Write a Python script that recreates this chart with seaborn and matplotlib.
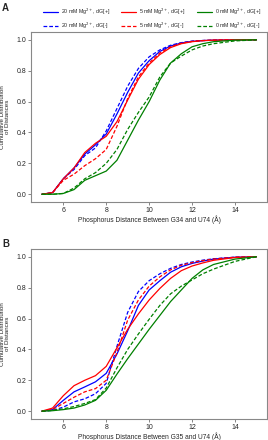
import pandas as pd
import matplotlib.pyplot as plt
import seaborn as sns

# distance grid (Angstrom)
dist = [5.0, 5.5, 6.0, 6.5, 7.0, 7.5, 8.0, 8.5, 9.0, 9.5, 10.0,
        10.5, 11.0, 11.5, 12.0, 12.5, 13.0, 14.0, 15.0]

# ---- panel A: G34 - U74 ----
a_20_pos = [0, 0.01, 0.10, 0.17, 0.26, 0.32, 0.39, 0.52, 0.66, 0.785, 0.865,
            0.925, 0.96, 0.98, 0.99, 0.995, 0.998, 1.0, 1.0]
a_20_neg = [0, 0.01, 0.10, 0.16, 0.25, 0.30, 0.41, 0.555, 0.70, 0.815, 0.89,
            0.935, 0.965, 0.982, 0.992, 0.996, 0.998, 1.0, 1.0]
a_5_pos = [0, 0.01, 0.10, 0.17, 0.27, 0.33, 0.375, 0.47, 0.61, 0.745, 0.84,
           0.905, 0.95, 0.975, 0.988, 0.995, 0.998, 1.0, 1.0]
a_5_neg = [0, 0.01, 0.09, 0.13, 0.185, 0.23, 0.29, 0.44, 0.62, 0.76, 0.85,
           0.915, 0.955, 0.978, 0.99, 0.995, 0.998, 1.0, 1.0]
a_0_pos = [0, 0.0, 0.005, 0.03, 0.09, 0.12, 0.15, 0.22, 0.35, 0.48, 0.60,
           0.74, 0.85, 0.91, 0.955, 0.975, 0.988, 0.998, 1.0]
a_0_neg = [0, 0.0, 0.005, 0.04, 0.10, 0.14, 0.20, 0.29, 0.42, 0.53, 0.63,
           0.76, 0.85, 0.895, 0.935, 0.96, 0.975, 0.993, 1.0]

# ---- panel B: G35 - U74 ----
b_20_pos = [0, 0.01, 0.07, 0.125, 0.157, 0.19, 0.245, 0.37, 0.52, 0.685, 0.785,
            0.845, 0.90, 0.935, 0.957, 0.972, 0.985, 0.997, 1.0]
b_20_neg = [0, 0.005, 0.026, 0.06, 0.08, 0.113, 0.18, 0.42, 0.64, 0.775, 0.845,
            0.89, 0.925, 0.95, 0.966, 0.978, 0.987, 0.997, 1.0]
b_5_pos = [0, 0.02, 0.10, 0.165, 0.20, 0.23, 0.29, 0.41, 0.53, 0.63, 0.72,
           0.795, 0.86, 0.91, 0.94, 0.96, 0.977, 0.995, 1.0]
b_5_neg = [0, 0.01, 0.05, 0.09, 0.125, 0.146, 0.20, 0.38, 0.59, 0.72, 0.81,
           0.87, 0.915, 0.945, 0.962, 0.975, 0.985, 0.997, 1.0]
b_0_pos = [0, 0.003, 0.01, 0.02, 0.04, 0.07, 0.135, 0.24, 0.34, 0.435, 0.53,
           0.62, 0.71, 0.785, 0.86, 0.915, 0.95, 0.985, 1.0]
b_0_neg = [0, 0.005, 0.015, 0.03, 0.05, 0.075, 0.15, 0.28, 0.40, 0.50, 0.595,
           0.685, 0.76, 0.81, 0.85, 0.89, 0.92, 0.97, 1.0]

labels = ["20 mM Mg$^{2+}$, dG[+]", "20 mM Mg$^{2+}$, dG[-]",
          "5 mM Mg$^{2+}$, dG[+]", "5 mM Mg$^{2+}$, dG[-]",
          "0 mM Mg$^{2+}$, dG[+]", "0 mM Mg$^{2+}$, dG[-]"]
colors = ["blue", "blue", "red", "red", "green", "green"]
styles = ["-", "--", "-", "--", "-", "--"]

panel_a = [a_20_pos, a_20_neg, a_5_pos, a_5_neg, a_0_pos, a_0_neg]
panel_b = [b_20_pos, b_20_neg, b_5_pos, b_5_neg, b_0_pos, b_0_neg]

sns.set_style("ticks")
plt.rcParams['font.family'] = ['Liberation Sans', 'DejaVu Sans']
plt.rcParams['mathtext.fontset'] = 'dejavusans'

fig = plt.figure(figsize=(2.68, 4.40), dpi=100)
ax_a = fig.add_axes([0.116, 0.541, 0.881, 0.386])
ax_b = fig.add_axes([0.116, 0.048, 0.881, 0.386])


def draw(ax, series, pair):
    for vals, lab, c, ls in zip(series, labels, colors, styles):
        df = pd.DataFrame({"dist": dist, "cdf": vals})
        sns.lineplot(data=df, x="dist", y="cdf", color=c,
                     linewidth=0.9, label=lab, ax=ax, legend=False)
        if ls == "--":
            ax.lines[-1].set_dashes((3, 1.6))
    ax.set_xlim(4.5, 15.5)
    ax.set_ylim(-0.05, 1.05)
    ax.set_xticks([6, 8, 10, 12, 14])
    ax.set_yticks([0.0, 0.2, 0.4, 0.6, 0.8, 1.0])
    ax.set_yticklabels(["0.0", "0.2", "0.4", "0.6", "0.8", "1.0"])
    ax.tick_params(labelsize=5, length=2, width=0.5, pad=1.5, color="#555555")
    for s in ax.spines.values():
        s.set_color("#888888")
        s.set_linewidth(0.8)
    ax.set_xlabel(f"Phosphorus Distance Between {pair} and U74 (Å)",
                  fontsize=4.8, labelpad=1)
    ax.set_ylabel("Cumulative Distribution\nof Distances", fontsize=4.5,
                  linespacing=1.0)
    ax.yaxis.set_label_coords(-0.09, 0.5)


draw(ax_a, panel_a, "G34")
draw(ax_b, panel_b, "G35")

fig.text(0.008, 0.982, "A", fontsize=7, fontweight="bold", va="center")
fig.text(0.008, 0.446, "B", fontsize=7, fontweight="bold", va="center")

handles, labs = ax_a.get_legend_handles_labels()
fig.legend(handles, labs, ncol=3, loc="center", bbox_to_anchor=(0.567, 0.957),
           fontsize=3.8, frameon=False, handlelength=2.85, handletextpad=0.57,
           columnspacing=2.1, labelspacing=0.55, borderaxespad=0)

fig.savefig("out.png", dpi=100)
